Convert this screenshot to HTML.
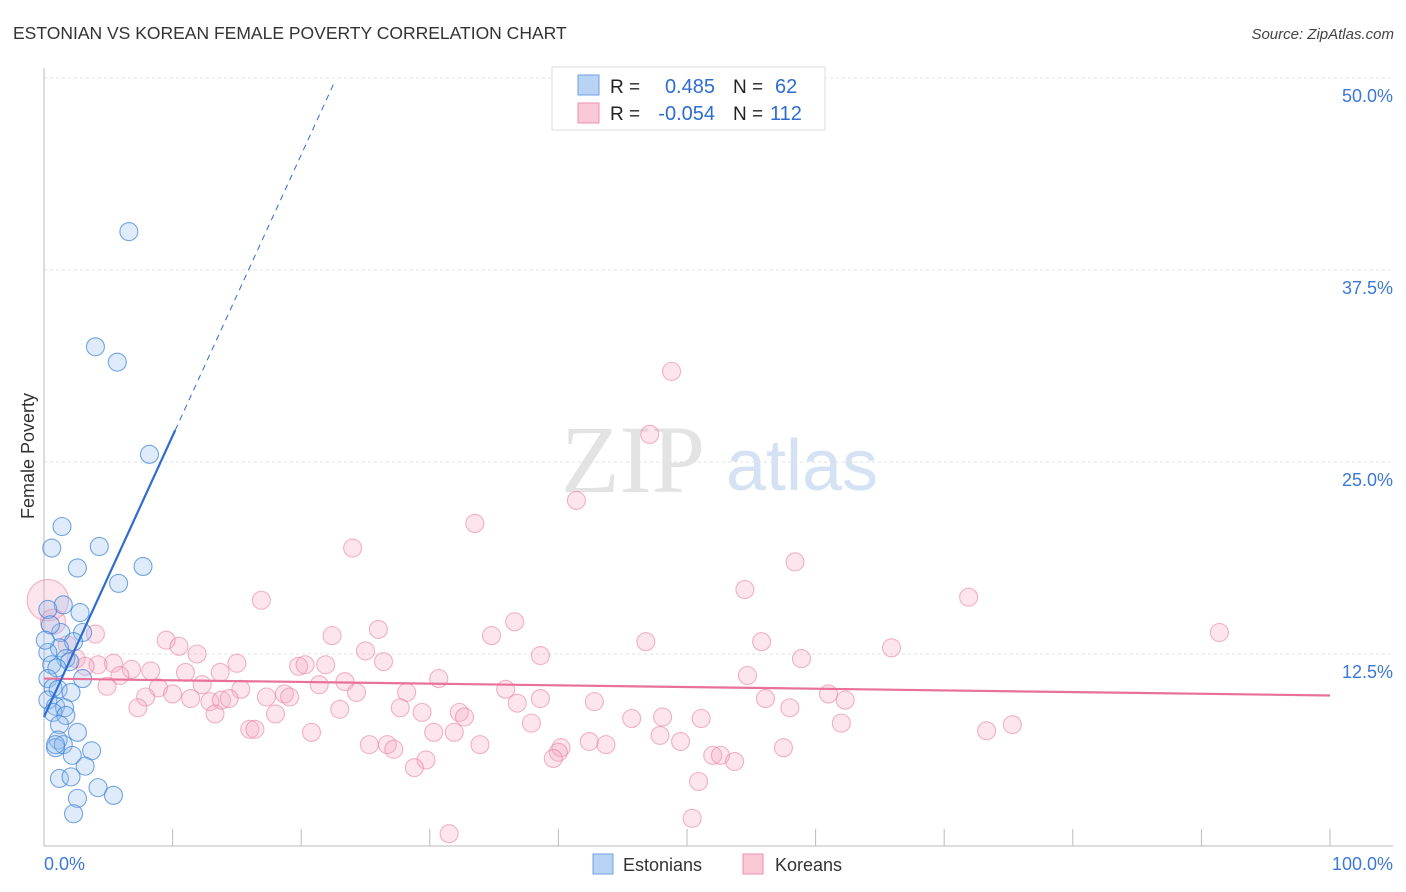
<!DOCTYPE html>
<html><head><meta charset="utf-8"><style>
body{margin:0;background:#fff;font-family:"Liberation Sans",sans-serif;}
svg{display:block}
</style></head><body>
<svg id="chart" width="1406" height="892">
<text x="13" y="39" font-size="17.5" fill="#333">ESTONIAN VS KOREAN FEMALE POVERTY CORRELATION CHART</text>
<text x="1394" y="39" font-size="15" fill="#444" text-anchor="end" font-style="italic">Source: ZipAtlas.com</text>
<g>
<text x="633" y="492" font-size="96" fill="#e3e3e3" font-family="Liberation Serif, serif" text-anchor="middle">ZIP</text>
<text x="802" y="490" font-size="72" fill="#d4e2f4" text-anchor="middle">atlas</text>
</g>
<g id="grid"></g>
<g id="axes"></g>
<g id="marks"></g>
<text transform="translate(34,456) rotate(-90)" font-size="18" fill="#333" text-anchor="middle">Female Poverty</text>
<g>
<rect x="552" y="67" width="273" height="63" fill="#fff" stroke="#ddd"/>
<rect x="578" y="75" width="21" height="20" fill="#b9d3f5" stroke="#6f9fe0"/>
<rect x="578" y="103" width="21" height="20" fill="#f9c9d8" stroke="#ea92b0"/>
<text x="610" y="93" font-size="19" fill="#222">R =</text><text x="715" y="93" font-size="20" fill="#2f6cd1" text-anchor="end">0.485</text>
<text x="733" y="93" font-size="19" fill="#222">N =</text><text x="775" y="93" font-size="20" fill="#2f6cd1">62</text>
<text x="610" y="120" font-size="19" fill="#222">R =</text><text x="715" y="120" font-size="20" fill="#2f6cd1" text-anchor="end">-0.054</text>
<text x="733" y="120" font-size="19" fill="#222">N =</text><text x="770" y="120" font-size="20" fill="#2f6cd1">112</text>
</g>
<g>
<rect x="593" y="854" width="20" height="20" fill="#b9d3f5" stroke="#6f9fe0"/>
<text x="623" y="871" font-size="18" fill="#333">Estonians</text>
<rect x="743" y="854" width="20" height="20" fill="#f9c9d8" stroke="#ea92b0"/>
<text x="775" y="871" font-size="18" fill="#333">Koreans</text>
</g>
</svg>
<script>
const yTicks=[12.5,25,37.5,50];
const yTickLabels=["12.5%","25.0%","37.5%","50.0%"];
const xTicks=[10,20,30,40,50,60,70,80,90,100];
const estX=[6.6,4.0,5.7,8.2,1.4,0.6,4.3,2.6,7.7,5.8,1.5,2.8,0.3,1.3,3.0,2.3,1.2,0.3,1.7,0.6,2.0,1.0,0.3,3.0,0.7,1.1,2.1,0.3,0.9,1.6,0.7,1.7,1.2,2.6,1.1,0.9,1.5,3.7,2.2,3.2,1.2,2.1,4.2,5.4,2.6,2.3,0.9,0.5,0.1];
const estY=[40.0,32.5,31.5,25.5,20.8,19.4,19.5,18.1,18.2,17.1,15.7,15.2,15.4,13.9,13.9,13.3,12.9,12.6,12.2,11.8,12.0,11.6,10.9,10.9,10.3,10.2,10.0,9.5,9.1,9.0,8.7,8.5,7.9,7.4,6.9,6.4,6.6,6.2,5.9,5.2,4.4,4.5,3.8,3.3,3.1,2.1,6.6,14.4,13.4];
const korX=[48.8,47.1,41.4,33.5,24.0,58.4,54.5,71.9,16.9,36.6,91.4,22.4,34.8,26.0,46.8,55.8,9.5,65.9,10.5,11.9,38.6,25.0,26.4,58.9,15.0,19.8,20.3,21.9,5.4,4.2,6.8,8.3,4.0,5.9,11.0,13.7,30.7,54.7,21.4,23.4,4.9,12.3,8.9,15.3,35.9,7.9,10.0,11.4,17.3,18.7,19.1,24.3,28.2,38.6,42.8,36.8,56.1,61.0,62.3,12.9,13.8,14.4,7.3,27.7,58.0,32.3,29.4,32.7,23.0,18.0,13.3,45.7,48.1,51.1,62.0,37.9,16.0,16.4,20.8,30.3,31.9,73.3,75.3,47.9,49.5,25.3,26.7,27.2,33.9,40.2,40.0,43.7,42.4,57.5,52.0,52.6,53.7,29.7,39.6,28.8,50.9,31.5,50.4,0.3,0.7,2.5,3.2,1.8];
const korY=[30.9,26.8,22.5,21.0,19.4,18.5,16.7,16.2,16.0,14.6,13.9,13.7,13.7,14.1,13.3,13.3,13.4,12.9,13.0,12.5,12.4,12.7,12.0,12.2,11.9,11.7,11.8,11.8,11.9,11.8,11.5,11.4,13.8,11.1,11.3,11.3,10.9,11.1,10.5,10.7,10.4,10.5,10.3,10.2,10.2,9.7,9.9,9.6,9.7,9.9,9.7,10.0,10.0,9.6,9.4,9.3,9.6,9.9,9.5,9.4,9.5,9.6,9.0,9.0,9.0,8.7,8.7,8.4,8.9,8.6,8.6,8.3,8.4,8.3,8.0,8.0,7.6,7.6,7.4,7.4,7.4,7.5,7.9,7.2,6.8,6.6,6.6,6.3,6.6,6.4,6.1,6.6,6.8,6.4,5.9,5.9,5.5,5.6,5.7,5.1,4.2,0.8,1.8,16.0,14.6,12.2,11.7,13.1];
const korWeight=[1,1,1,1,1,1,1,1,1,1,1,1,1,1,1,1,1,1,1,1,1,1,1,1,1,1,1,1,1,1,1,1,1,1,1,1,1,1,1,1,1,1,1,1,1,1,1,1,1,1,1,1,1,1,1,1,1,1,1,1,1,1,1,1,1,1,1,1,1,1,1,1,1,1,1,1,1,1,1,1,1,1,1,1,1,1,1,1,1,1,1,1,1,1,1,1,1,1,1,1,1,1,1,2.3,1.4,1,1,1];
const estTrend=[8.4,1.83];
const korTrend=[10.9,-0.011];

const X0=44,X1=1330,Y0=846,PXPER=15.36;
const sx=v=>X0+v*(X1-X0)/100;
const sy=v=>Y0-v*PXPER;
const NS='http://www.w3.org/2000/svg';
function mk(tag,attrs,parent){const e=document.createElementNS(NS,tag);for(const k in attrs)e.setAttribute(k,attrs[k]);parent.appendChild(e);return e;}
const grid=document.getElementById('grid'),axes=document.getElementById('axes'),marks=document.getElementById('marks');
yTicks.forEach((t,i)=>{
  const l=mk('line',{x1:44,x2:1393,y1:sy(t),y2:sy(t),stroke:'#e2e2e2','stroke-dasharray':'3,3'},grid);
  
  
  const tx=mk('text',{x:1393,y:sy(t)+24,'font-size':18,fill:'#3b78d8','text-anchor':'end'},grid);
  tx.textContent=yTickLabels[i];
  
  
});
const ya=mk('line',{x1:44,x2:44,y1:68,y2:846,stroke:'#bbb'},axes);


const xa=mk('line',{x1:44,x2:1393,y1:846,y2:846,stroke:'#bbb'},axes);


xTicks.forEach(t=>{
  const l=mk('line',{x1:sx(t),x2:sx(t),y1:829,y2:846,stroke:'#bbb'},axes);
  
  
});
const xl0=mk('text',{x:44,y:870,'font-size':18,fill:'#3b78d8'},axes);xl0.textContent='0.0%';


const xl1=mk('text',{x:1393,y:870,'font-size':18,fill:'#3b78d8','text-anchor':'end'},axes);xl1.textContent='100.0%';



korX.forEach((x,i)=>{
  const c=mk('circle',{cx:sx(x),cy:sy(korY[i]),r:9*korWeight[i],fill:'rgba(246,170,195,0.3)',stroke:'rgba(234,130,165,0.6)','stroke-width':1.1},marks);
  
  
});
estX.forEach((x,i)=>{
  const c=mk('circle',{cx:sx(x),cy:sy(estY[i]),r:9,fill:'rgba(150,190,240,0.3)',stroke:'rgba(60,130,215,0.7)','stroke-width':1.1},marks);
  
  
});
const kl=mk('line',{x1:sx(0),y1:sy(korTrend[0]),x2:sx(100),y2:sy(korTrend[0]+korTrend[1]*100),stroke:'#e8709a','stroke-width':2.2},marks);


const xs=10.2,xe=22.5;
const el=mk('line',{x1:sx(0),y1:sy(estTrend[0]),x2:sx(xs),y2:sy(estTrend[0]+estTrend[1]*xs),stroke:'#2f6cd1','stroke-width':2.2},marks);


const ed=mk('line',{x1:sx(xs),y1:sy(estTrend[0]+estTrend[1]*xs),x2:sx(xe),y2:sy(estTrend[0]+estTrend[1]*xe),stroke:'#2f6cd1','stroke-width':1,'stroke-dasharray':'6,5'},marks);


</script>
</body></html>
